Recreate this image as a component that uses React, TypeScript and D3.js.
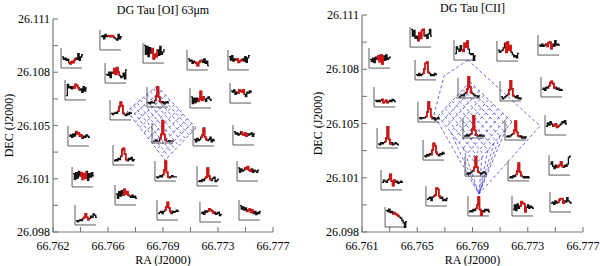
import { useRef, useEffect } from 'react';
import * as d3 from 'd3';

// shared DEC axis
const decTicks = [26.098, 26.10125, 26.1045, 26.10775, 26.111];
const decLabels = ['26.098', '26.101', '26.105', '26.108', '26.111'];

// ---- [OI] 63um panel ----
const oiTitle = 'DG Tau [OI] 63μm';
const oiRaTicks = [66.762, 66.76575, 66.7695, 66.77325, 66.777];
const oiRaLabels = ['66.762', '66.766', '66.769', '66.773', '66.777'];
// lower-left corner of each spaxel spectrum (RA, DEC)
const oiRa = [
  66.76255, 66.7652, 66.76814, 66.77114, 66.77393,
  66.76282, 66.76555, 66.76841, 66.77134, 66.77407,
  66.76302, 66.76589, 66.76875, 66.77155, 66.77427,
  66.7633, 66.76609, 66.76895, 66.77182, 66.77455,
  66.7635, 66.76623, 66.76909, 66.77202, 66.77468,
];
const oiDec = [
  26.10801, 26.10911, 26.10831, 26.10789, 26.10789,
  26.10606, 26.10709, 26.10563, 26.10557, 26.10587,
  26.10325, 26.10484, 26.10343, 26.10325, 26.10331,
  26.10075, 26.10209, 26.10111, 26.10081, 26.10111,
  26.09843, 26.09965, 26.09873, 26.09861, 26.09873,
];
const oiSpectra = [
  [0.6, 0.5, 0.55, 0.45, 0.5, 0.35, 0.3, 0.4, 0.35, 0.45, 0.55, 0.5, 0.75, 0.45, 0.6, 0.7],
  [0.7, 0.75, 0.6, 0.8, 0.7, 0.75, 0.72, 0.7, 0.75, 0.7, 0.65, 0.6, 0.55, 0.8, 0.6, 0.7],
  [0.9, 0.5, 0.85, 0.4, 0.8, 0.55, 0.75, 0.3, 0.5, 0.4, 0.7, 0.45, 0.85, 0.5, 0.6, 0.7],
  [0.6, 0.5, 0.55, 0.4, 0.5, 0.45, 0.4, 0.3, 0.45, 0.5, 0.55, 0.45, 0.6, 0.4, 0.5, 0.3],
  [0.7, 0.55, 0.75, 0.5, 0.6, 0.55, 0.6, 0.45, 0.5, 0.55, 0.6, 0.5, 0.7, 0.45, 0.65, 0.75],
  [0.3, 0.8, 0.65, 0.7, 0.6, 0.7, 0.65, 0.8, 0.75, 0.65, 0.55, 0.6, 0.45, 0.7, 0.5, 0.65],
  [0.5, 0.45, 0.6, 0.35, 0.6, 0.55, 0.75, 0.5, 0.8, 0.6, 0.45, 0.35, 0.4, 0.55, 0.3, 0.7],
  [0.3, 0.25, 0.35, 0.3, 0.3, 0.4, 0.6, 1.0, 0.55, 0.35, 0.3, 0.35, 0.25, 0.3, 0.35, 0.3],
  [0.6, 0.3, 0.55, 0.35, 0.55, 0.4, 0.5, 0.85, 0.45, 0.6, 0.5, 0.4, 0.55, 0.6, 0.5, 0.45],
  [0.65, 0.6, 0.7, 0.5, 0.6, 0.55, 0.7, 0.65, 0.6, 0.7, 0.5, 0.4, 0.6, 0.55, 0.65, 0.6],
  [0.55, 0.6, 0.5, 0.65, 0.55, 0.75, 0.65, 0.7, 0.55, 0.6, 0.45, 0.55, 0.5, 0.6, 0.55, 0.5],
  [0.4, 0.35, 0.4, 0.45, 0.4, 0.5, 0.7, 0.9, 0.75, 0.4, 0.35, 0.3, 0.4, 0.35, 0.45, 0.4],
  [0.2, 0.2, 0.25, 0.2, 0.2, 0.3, 0.5, 1.1, 0.5, 0.25, 0.2, 0.2, 0.22, 0.2, 0.2, 0.2],
  [0.4, 0.3, 0.45, 0.35, 0.4, 0.5, 0.6, 0.9, 0.5, 0.4, 0.35, 0.4, 0.5, 0.3, 0.4, 0.35],
  [0.7, 0.6, 0.65, 0.55, 0.6, 0.7, 0.6, 0.55, 0.65, 0.5, 0.6, 0.55, 0.6, 0.65, 0.5, 0.6],
  [0.7, 0.45, 0.75, 0.5, 0.8, 0.6, 0.75, 0.45, 0.7, 0.5, 0.8, 0.4, 0.7, 0.55, 0.75, 0.6],
  [0.3, 0.35, 0.3, 0.4, 0.35, 0.5, 0.8, 0.85, 0.6, 0.35, 0.3, 0.4, 0.35, 0.45, 0.3, 0.35],
  [0.3, 0.25, 0.3, 0.35, 0.3, 0.4, 0.6, 1.0, 0.5, 0.3, 0.25, 0.3, 0.35, 0.3, 0.3, 0.3],
  [0.3, 0.35, 0.3, 0.4, 0.35, 0.45, 0.5, 0.9, 0.55, 0.4, 0.35, 0.45, 0.5, 0.3, 0.35, 0.4],
  [0.7, 0.5, 0.65, 0.55, 0.6, 0.7, 0.65, 0.75, 0.6, 0.55, 0.65, 0.5, 0.6, 0.55, 0.5, 0.6],
  [0.3, 0.25, 0.3, 0.35, 0.3, 0.4, 0.45, 0.6, 0.45, 0.35, 0.4, 0.5, 0.45, 0.6, 0.55, 0.45],
  [0.6, 0.4, 0.7, 0.5, 0.75, 0.55, 0.8, 0.6, 0.7, 0.55, 0.5, 0.45, 0.55, 0.45, 0.5, 0.4],
  [0.4, 0.45, 0.5, 0.4, 0.5, 0.55, 0.7, 0.9, 0.65, 0.5, 0.4, 0.5, 0.45, 0.5, 0.55, 0.5],
  [0.5, 0.55, 0.45, 0.6, 0.55, 0.6, 0.7, 0.65, 0.6, 0.5, 0.55, 0.45, 0.5, 0.55, 0.4, 0.45],
  [0.75, 0.6, 0.7, 0.55, 0.65, 0.5, 0.55, 0.6, 0.45, 0.55, 0.4, 0.5, 0.35, 0.45, 0.4, 0.5],
];
// footprint diamond: top, left, bottom, right
const oiFootRa = [66.76909, 66.76705, 66.76964, 66.77175];
const oiFootDec = [26.10691, 26.10538, 26.10239, 26.10435];

// ---- [CII] panel ----
const ciiTitle = 'DG Tau [CII]';
const ciiRaTicks = [66.761, 66.765, 66.769, 66.773, 66.777];
const ciiRaLabels = ['66.761', '66.765', '66.769', '66.773', '66.777'];
const ciiRa = [
  66.76151, 66.76448, 66.76766, 66.77077, 66.77374,
  66.76187, 66.76484, 66.76795, 66.77099, 66.77396,
  66.76209, 66.76505, 66.76831, 66.77135, 66.77425,
  66.76238, 66.76542, 66.76846, 66.77157, 66.77454,
  66.76267, 66.76563, 66.76867, 66.77186, 66.77461,
];
const ciiDec = [
  26.10782, 26.10908, 26.1083, 26.10824, 26.1086,
  26.10549, 26.10711, 26.10603, 26.10585, 26.10609,
  26.10303, 26.10459, 26.10363, 26.10351, 26.10381,
  26.10052, 26.10231, 26.10135, 26.10106, 26.10141,
  26.0983, 26.09956, 26.09896, 26.09896, 26.0992,
];
const ciiSpectra = [
  [0.5, 0.4, 0.55, 0.35, 0.6, 0.5, 0.65, 0.4, 0.7, 0.3, 0.65, 0.45, 0.7, 0.5, 0.55, 0.6],
  [0.9, 0.6, 0.85, 0.5, 0.6, 0.4, 0.75, 0.5, 0.85, 0.9, 0.6, 0.65, 0.5, 0.7, 0.9, 0.6],
  [0.4, 0.7, 0.6, 0.5, 0.75, 0.55, 0.5, 0.85, 0.7, 0.95, 0.6, 0.4, 0.35, 0.4, 0.1, 0.3],
  [0.6, 0.5, 0.55, 0.6, 0.7, 0.9, 0.5, 0.95, 0.6, 0.8, 0.5, 0.4, 0.3, 0.35, 0.25, 0.45],
  [0.55, 0.5, 0.6, 0.5, 0.55, 0.6, 0.5, 0.65, 0.7, 0.4, 0.6, 0.5, 0.75, 0.55, 0.6, 0.55],
  [0.4, 0.35, 0.4, 0.35, 0.4, 0.45, 0.3, 0.35, 0.4, 0.3, 0.35, 0.4, 0.35, 0.45, 0.4, 0.35],
  [0.35, 0.3, 0.4, 0.3, 0.35, 0.4, 0.6, 0.85, 0.9, 0.45, 0.4, 0.3, 0.35, 0.3, 0.4, 0.35],
  [0.15, 0.2, 0.25, 0.2, 0.3, 0.35, 0.5, 1.05, 0.6, 0.35, 0.3, 0.25, 0.2, 0.2, 0.15, 0.2],
  [0.3, 0.2, 0.25, 0.3, 0.35, 0.4, 0.6, 1.0, 0.65, 0.35, 0.3, 0.25, 0.35, 0.2, 0.25, 0.2],
  [0.45, 0.5, 0.4, 0.55, 0.5, 0.6, 0.75, 0.8, 0.7, 0.5, 0.55, 0.45, 0.5, 0.4, 0.45, 0.4],
  [0.3, 0.25, 0.35, 0.3, 0.35, 0.4, 0.55, 1.05, 0.5, 0.3, 0.35, 0.25, 0.3, 0.35, 0.3, 0.25],
  [0.3, 0.25, 0.3, 0.28, 0.3, 0.35, 0.55, 1.0, 0.7, 0.35, 0.25, 0.3, 0.2, 0.25, 0.3, 0.25],
  [0.2, 0.2, 0.25, 0.2, 0.25, 0.3, 0.5, 1.1, 0.45, 0.25, 0.2, 0.2, 0.25, 0.2, 0.2, 0.2],
  [0.25, 0.3, 0.25, 0.3, 0.35, 0.4, 0.55, 0.95, 0.45, 0.3, 0.25, 0.3, 0.2, 0.25, 0.2, 0.25],
  [0.5, 0.65, 0.55, 0.7, 0.6, 0.5, 0.55, 0.6, 0.45, 0.5, 0.55, 0.6, 0.7, 0.65, 0.75, 0.6],
  [0.45, 0.55, 0.5, 0.45, 0.55, 0.6, 0.8, 0.5, 0.3, 0.55, 0.45, 0.5, 0.4, 0.45, 0.5, 0.45],
  [0.3, 0.25, 0.35, 0.3, 0.4, 0.35, 0.55, 0.85, 0.75, 0.45, 0.35, 0.3, 0.4, 0.35, 0.45, 0.4],
  [0.2, 0.25, 0.2, 0.25, 0.3, 0.35, 0.5, 0.95, 0.5, 0.3, 0.25, 0.2, 0.25, 0.3, 0.25, 0.2],
  [0.25, 0.3, 0.25, 0.35, 0.3, 0.4, 0.55, 0.9, 0.5, 0.35, 0.3, 0.25, 0.3, 0.25, 0.3, 0.25],
  [0.6, 0.7, 0.5, 0.4, 0.55, 0.45, 0.5, 0.55, 0.7, 0.5, 0.45, 0.55, 0.5, 0.6, 0.9, 0.95],
  [0.85, 0.8, 0.9, 0.75, 0.8, 0.7, 0.75, 0.7, 0.65, 0.6, 0.55, 0.5, 0.4, 0.3, 0.1, 0.35],
  [0.4, 0.45, 0.5, 0.35, 0.5, 0.55, 0.6, 0.9, 0.85, 0.55, 0.45, 0.5, 0.35, 0.4, 0.35, 0.45],
  [0.3, 0.35, 0.3, 0.4, 0.35, 0.45, 0.6, 0.95, 0.4, 0.15, 0.35, 0.3, 0.4, 0.35, 0.4, 0.3],
  [0.4, 0.6, 0.35, 0.65, 0.45, 0.55, 0.75, 0.7, 0.65, 0.3, 0.5, 0.6, 0.45, 0.55, 0.5, 0.45],
  [0.5, 0.55, 0.45, 0.6, 0.5, 0.55, 0.65, 0.7, 0.7, 0.5, 0.6, 0.55, 0.75, 0.6, 0.55, 0.5],
];
// inner footprint diamond: top, left, bottom, right
const ciiFootRa = [66.76882, 66.7665, 66.76925, 66.77186];
const ciiFootDec = [26.10699, 26.10495, 26.10207, 26.10459];
// outer footprint polygon: top, upper-left, left, bottom, right
const ciiOuterRa = [66.76867, 66.76694, 66.76621, 66.76947, 66.77389];
const ciiOuterDec = [26.1083, 26.10735, 26.10501, 26.10028, 26.10435];

const FONT = "'Liberation Serif', 'Times New Roman', serif";
const AXIS = '#7a7a7a';
const BLUE = '#3535d8';
const RED = '#d21414';

function drawPanel(svg, p) {
  const x = d3.scaleLinear().domain([p.raTicks[0], p.raTicks[p.raTicks.length - 1]]).range([p.x0, p.x1]);
  const y = d3.scaleLinear().domain([decTicks[0], decTicks[decTicks.length - 1]]).range([p.y0, p.y1]);
  const g = svg.append('g');
  const P = (ra, dec) => [x(ra), y(dec)];

  // axes
  g.append('path')
    .attr('d', `M${p.x0},${p.y1}V${p.y0}H${p.x1}`)
    .attr('fill', 'none').attr('stroke', AXIS).attr('stroke-width', 1.2);

  const mid = arr => d3.pairs(arr).map(([a, b]) => (a + b) / 2);
  const xt = p.raTicks.concat(mid(p.raTicks));
  const yt = decTicks.concat(mid(decTicks));
  g.selectAll('.xt').data(xt).enter().append('line')
    .attr('x1', d => x(d)).attr('x2', d => x(d))
    .attr('y1', p.y0).attr('y2', p.y0 - 5)
    .attr('stroke', AXIS).attr('stroke-width', 1.1);
  g.selectAll('.yt').data(yt).enter().append('line')
    .attr('y1', d => y(d)).attr('y2', d => y(d))
    .attr('x1', p.x0).attr('x2', p.x0 + 5)
    .attr('stroke', AXIS).attr('stroke-width', 1.1);

  g.selectAll('.xl').data(p.raTicks).enter().append('text')
    .attr('x', d => x(d)).attr('y', p.y0 + 18)
    .attr('text-anchor', 'middle').attr('font-size', 12).attr('font-family', FONT)
    .text((d, i) => p.raLabels[i]);
  g.selectAll('.yl').data(decTicks).enter().append('text')
    .attr('x', p.x0 - 3).attr('y', d => y(d) + 4)
    .attr('text-anchor', 'end').attr('font-size', 12).attr('font-family', FONT)
    .text((d, i) => decLabels[i]);

  // titles
  g.append('text').attr('x', (p.x0 + p.x1) / 2).attr('y', p.titleY)
    .attr('text-anchor', 'middle').attr('font-size', 12).attr('font-family', FONT)
    .text(p.title);
  g.append('text').attr('x', (p.x0 + p.x1) / 2).attr('y', 264)
    .attr('text-anchor', 'middle').attr('font-size', 12).attr('font-family', FONT)
    .text('RA (J2000)');
  g.append('text')
    .attr('transform', `translate(${p.x0 - 40},${(p.y0 + p.y1) / 2}) rotate(-90)`)
    .attr('text-anchor', 'middle').attr('font-size', 12).attr('font-family', FONT)
    .text('DEC (J2000)');

  // footprint lattice
  const fg = g.append('g')
    .attr('fill', 'none').attr('stroke', BLUE).attr('stroke-width', 0.75)
    .attr('stroke-dasharray', '3,2.5');
  const [T, L, B, R] = p.footRa.map((ra, i) => P(ra, p.footDec[i]));
  const lerp = (a, b, t) => [a[0] + (b[0] - a[0]) * t, a[1] + (b[1] - a[1]) * t];
  const n = 9;
  d3.range(n + 1).forEach(i => {
    const t = i / n;
    const a = lerp(T, L, t), b = lerp(R, B, t);
    const c = lerp(T, R, t), d = lerp(L, B, t);
    fg.append('line').attr('x1', a[0]).attr('y1', a[1]).attr('x2', b[0]).attr('y2', b[1]);
    fg.append('line').attr('x1', c[0]).attr('y1', c[1]).attr('x2', d[0]).attr('y2', d[1]);
  });
  if (p.outerRa) {
    const outer = p.outerRa.map((ra, i) => P(ra, p.outerDec[i]));
    fg.append('path').attr('d', d3.line()(outer) + 'Z');
    const OB = outer[3];
    d3.range(1, 6).forEach(i => {
      const a = lerp(B, R, i / 6);
      fg.append('line').attr('x1', a[0]).attr('y1', a[1]).attr('x2', OB[0]).attr('y2', OB[1]);
    });
    d3.range(1, 3).forEach(i => {
      const a = lerp(L, B, i / 3);
      fg.append('line').attr('x1', a[0]).attr('y1', a[1]).attr('x2', OB[0]).attr('y2', OB[1]);
    });
  }

  // spaxel spectra
  const bw = 22, bh = 20;
  p.spectra.forEach((s, k) => {
    const N = s.length;
    const sx = d3.scaleLinear().domain([0, N]).range([1, bw]);
    const sy = d3.scaleLinear().domain([0.2, 1]).range([-2, -bh]);
    const pts = s.map((v, i) => [i, v]).concat([[N, s[N - 1]]]);
    const line = d3.line().x(d => sx(d[0])).y(d => sy(d[1])).curve(d3.curveStepAfter);
    const gi = g.append('g').attr('transform', `translate(${x(p.ra[k])},${y(p.dec[k])})`);
    gi.append('path').attr('d', `M0,${-bh}V0H${bw - 1}`)
      .attr('fill', 'none').attr('stroke', '#333').attr('stroke-width', 0.8);
    gi.append('path').attr('d', line(pts))
      .attr('fill', 'none').attr('stroke', '#111').attr('stroke-width', 1.3);
    gi.append('path').attr('d', line(pts.slice(5, 11)))
      .attr('fill', 'none').attr('stroke', RED).attr('stroke-width', 1.7);
  });
}

export default function App() {
  const svgRef = useRef(null);

  useEffect(() => {
    const svg = d3.select(svgRef.current).html('');
    svg.append('rect').attr('width', 600).attr('height', 266).attr('fill', '#fff');

    drawPanel(svg, {
      title: oiTitle, titleY: 14,
      raTicks: oiRaTicks, raLabels: oiRaLabels,
      ra: oiRa, dec: oiDec, spectra: oiSpectra,
      footRa: oiFootRa, footDec: oiFootDec,
      x0: 53, x1: 273, y0: 232, y1: 19,
    });
    drawPanel(svg, {
      title: ciiTitle, titleY: 12,
      raTicks: ciiRaTicks, raLabels: ciiRaLabels,
      ra: ciiRa, dec: ciiDec, spectra: ciiSpectra,
      footRa: ciiFootRa, footDec: ciiFootDec,
      outerRa: ciiOuterRa, outerDec: ciiOuterDec,
      x0: 362, x1: 583, y0: 232, y1: 15,
    });
  }, []);

  return (
    <svg ref={svgRef} width={600} height={266}
      style={{ position: 'absolute', left: 0, top: 0 }} />
  );
}
